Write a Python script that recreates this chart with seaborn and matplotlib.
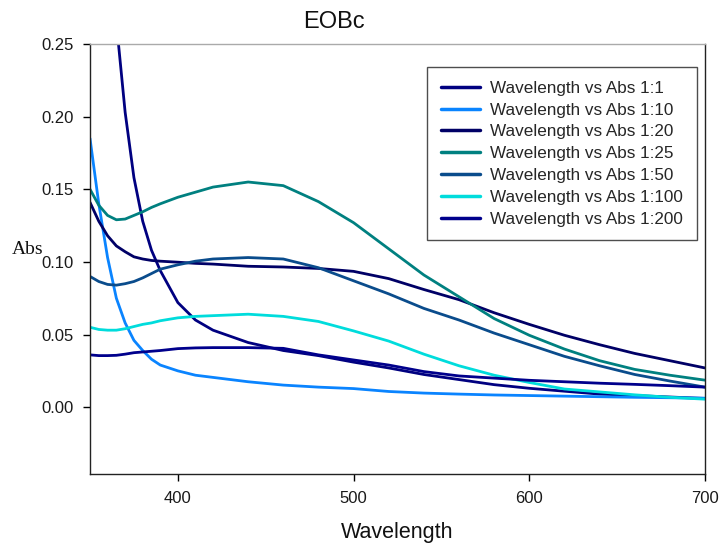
import matplotlib
matplotlib.use("Agg")
import matplotlib.pyplot as plt
import seaborn as sns
import pandas as pd

wavelength = [350, 355, 360, 365, 370, 375, 380, 385, 390, 400, 410, 420, 440,
              460, 480, 500, 520, 540, 560, 580, 600, 620, 640, 660, 680, 700]

abs_1_1 = [0.60, 0.45, 0.34, 0.265, 0.203, 0.158, 0.128, 0.108, 0.094, 0.072, 0.060, 0.053, 0.0445,
           0.039, 0.0355, 0.031, 0.027, 0.0225, 0.019, 0.0155, 0.013, 0.011, 0.009, 0.008, 0.007, 0.006]
abs_1_10 = [0.185, 0.140, 0.103, 0.075, 0.058, 0.046, 0.039, 0.033, 0.029, 0.025, 0.022, 0.0205, 0.0175,
            0.0152, 0.0138, 0.0128, 0.0108, 0.0097, 0.0090, 0.0084, 0.0080, 0.0076, 0.0072, 0.0068, 0.0065, 0.0062]
abs_1_20 = [0.141, 0.128, 0.118, 0.111, 0.107, 0.1035, 0.102, 0.101, 0.1005, 0.0998, 0.099, 0.0985, 0.097,
            0.0965, 0.0955, 0.0935, 0.0885, 0.081, 0.074, 0.065, 0.057, 0.0495, 0.043, 0.037, 0.032, 0.027]
abs_1_25 = [0.150, 0.139, 0.132, 0.129, 0.1295, 0.132, 0.1345, 0.1375, 0.140, 0.1445, 0.148, 0.1515, 0.155,
            0.1525, 0.1415, 0.127, 0.109, 0.091, 0.076, 0.061, 0.0495, 0.040, 0.032, 0.026, 0.022, 0.0186]
abs_1_50 = [0.090, 0.0865, 0.0845, 0.084, 0.085, 0.0865, 0.089, 0.092, 0.095, 0.098, 0.1005, 0.102, 0.103,
            0.102, 0.096, 0.087, 0.078, 0.068, 0.060, 0.051, 0.043, 0.035, 0.0285, 0.0225, 0.018, 0.0138]
abs_1_100 = [0.055, 0.0535, 0.053, 0.053, 0.054, 0.0555, 0.057, 0.058, 0.0595, 0.0615, 0.0625, 0.063, 0.064,
             0.0625, 0.059, 0.0525, 0.0455, 0.0365, 0.0285, 0.022, 0.017, 0.0125, 0.0105, 0.0085, 0.0068, 0.0055]
abs_1_200 = [0.036, 0.0355, 0.0355, 0.0357, 0.0365, 0.0375, 0.038, 0.0385, 0.039, 0.0403, 0.0408, 0.041, 0.041,
             0.0405, 0.036, 0.0325, 0.029, 0.0245, 0.0215, 0.020, 0.0185, 0.0175, 0.0165, 0.0157, 0.0148, 0.0138]

series_names = ["Wavelength vs Abs 1:1", "Wavelength vs Abs 1:10", "Wavelength vs Abs 1:20",
                "Wavelength vs Abs 1:25", "Wavelength vs Abs 1:50", "Wavelength vs Abs 1:100",
                "Wavelength vs Abs 1:200"]
series_values = [abs_1_1, abs_1_10, abs_1_20, abs_1_25, abs_1_50, abs_1_100, abs_1_200]
series_colors = ["#000080", "#0A84FF", "#000066", "#008080", "#0A4C8C", "#00DCDC", "#00008C"]

x_ticks = [400, 500, 600, 700]
y_ticks = [0.00, 0.05, 0.10, 0.15, 0.20, 0.25]

rows = []
for name, vals in zip(series_names, series_values):
    for w, v in zip(wavelength, vals):
        rows.append({"Wavelength": w, "Abs": v, "Series": name})
df = pd.DataFrame(rows)

sns.set_theme(style="white")
plt.rcParams["font.family"] = ["Liberation Sans", "DejaVu Sans"]

fig = plt.figure(figsize=(7.21, 5.44), dpi=100)
ax = fig.add_axes([90 / 721, 1 - 474 / 544, 615 / 721, 430 / 544])

sns.lineplot(data=df, x="Wavelength", y="Abs", hue="Series", hue_order=series_names,
             palette=dict(zip(series_names, series_colors)), linewidth=2.0, ax=ax,
             legend=True)

ax.set_xlim(350, 700)
ax.set_ylim(-0.046, 0.25)
ax.set_xticks(x_ticks)
ax.set_xticklabels([str(t) for t in x_ticks])
ax.set_yticks(y_ticks)
ax.set_yticklabels([f"{t:.2f}" for t in y_ticks])
ax.tick_params(axis="both", direction="out", length=5, width=1, color="black",
               labelsize=12, labelcolor="#1a1a1a")
ax.tick_params(axis="y", pad=6.5)
ax.tick_params(axis="x", pad=7)
ax.xaxis.set_ticks_position("bottom")
ax.yaxis.set_ticks_position("left")

for side in ["left", "bottom", "right"]:
    ax.spines[side].set_color("#222222")
    ax.spines[side].set_linewidth(1.0)
ax.spines["top"].set_color("#aaaaaa")
ax.spines["top"].set_linewidth(1.0)

ax.set_xlabel("Wavelength", fontsize=15.5, labelpad=12, color="#111111")
ax.set_ylabel("")
fig.text(12 / 721, 1 - 249 / 544, "Abs", fontsize=14, family=["Liberation Serif"],
         ha="left", va="center", color="#111111")
fig.text(334 / 721, 1 - 21.5 / 544, "EOBc", fontsize=17, ha="center", va="center", color="#111111")

leg = ax.legend(loc="upper right", bbox_to_anchor=(0.987, 0.9465), frameon=True,
                fancybox=False, shadow=False, fontsize=12.3, handlelength=2.3,
                borderpad=0.8, labelspacing=0.4, handletextpad=0.6, borderaxespad=0)
leg.get_frame().set_edgecolor("#222222")
leg.get_frame().set_linewidth(1.0)
for line in leg.get_lines():
    line.set_linewidth(2.5)

fig.savefig("out.png", dpi=100)
